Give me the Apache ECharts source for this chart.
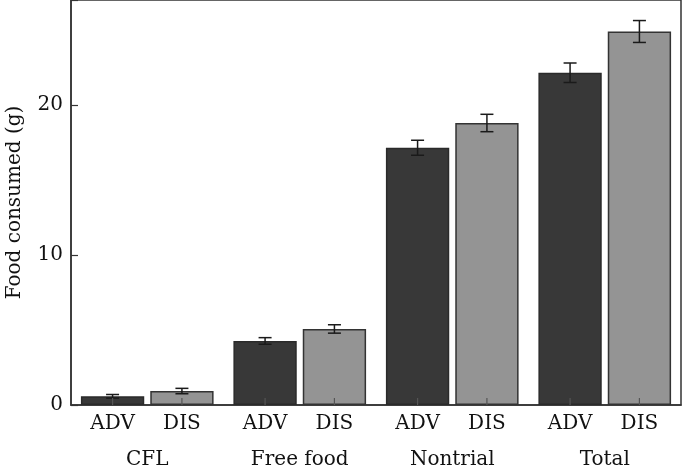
<!DOCTYPE html>
<html>
<head>
<meta charset="utf-8">
<script src="https://cdn.jsdelivr.net/npm/echarts@6/dist/echarts.min.js"></script>
<style>html,body{margin:0;padding:0;background:#fff}#c{width:683px;height:473px}</style>
</head>
<body>
<div id="c"></div>
<script>
const groups = ['CFL', 'Free food', 'Nontrial', 'Total'];
const seriesNames = ['ADV', 'DIS'];
const advMean = [0.58, 4.27, 17.15, 22.15];
const advErr = [0.12, 0.22, 0.50, 0.65];
const disMean = [0.93, 5.07, 18.80, 24.90];
const disErr = [0.18, 0.28, 0.58, 0.73];
const yTicks = [0, 10, 20];

const FONT = 'DejaVu Serif';
const CAT_GAP = 0.13, BAR_GAP = 0.095;

function errRender(side) {
  return function (params, api) {
    const i = api.value(0), m = api.value(1), e = api.value(2);
    const c = api.coord([i, m]);
    const band = api.size([1, 0])[0];
    const bw = band * (1 - CAT_GAP) / (2 + BAR_GAP);
    const x = c[0] + side * bw * (1 + BAR_GAP) / 2;
    const yHi = api.coord([i, m + e])[1];
    const yLo = api.coord([i, m - e])[1];
    const y0 = api.coord([i, 0])[1];
    const st = { stroke: '#1a1a1a', lineWidth: 1.5 };
    const cap = 6.5;
    return {
      type: 'group',
      children: [
        { type: 'line', shape: { x1: x, y1: yHi, x2: x, y2: yLo }, style: st },
        { type: 'line', shape: { x1: x - cap, y1: yHi, x2: x + cap, y2: yHi }, style: st },
        { type: 'line', shape: { x1: x - cap, y1: yLo, x2: x + cap, y2: yLo }, style: st },
        { type: 'line', shape: { x1: x, y1: y0, x2: x, y2: y0 - 7 }, style: { stroke: '#555', lineWidth: 1.2 } }
      ]
    };
  };
}

const chart = echarts.init(document.getElementById('c'), null, { renderer: 'canvas' });
const barLabel = {
  show: true, position: 'bottom', distance: 9,
  formatter: p => p.seriesName,
  color: '#111', fontFamily: FONT, fontSize: 20
};
chart.setOption({
  animation: false,
  grid: { left: 71, right: 2, top: 0, bottom: 68, outerBoundsMode: 'none', containLabel: false,
    show: true, borderColor: '#333', borderWidth: 1.5, backgroundColor: 'transparent' },
  xAxis: {
    type: 'category', data: groups,
    axisLine: { lineStyle: { color: '#333', width: 1.5 } },
    axisTick: { show: false },
    axisLabel: { margin: 45, color: '#111', fontFamily: FONT, fontSize: 20 }
  },
  yAxis: {
    type: 'value', min: 0, max: 27, interval: 10,
    name: 'Food consumed (g)', nameLocation: 'middle', nameGap: 46,
    nameTextStyle: { color: '#111', fontFamily: FONT, fontSize: 20 },
    axisLine: { show: true, lineStyle: { color: '#333', width: 1.5 } },
    axisTick: { show: true, inside: true, length: 7, lineStyle: { color: '#333', width: 1.2 } },
    splitLine: { show: false },
    axisLabel: { margin: 8, color: '#111', fontFamily: FONT, fontSize: 20,
      formatter: v => (yTicks.indexOf(v) >= 0 ? String(v) : '') }
  },
  series: [
    { name: seriesNames[0], type: 'bar', data: advMean, barCategoryGap: (CAT_GAP * 100) + '%', barGap: (BAR_GAP * 100) + '%',
      itemStyle: { color: '#383838', borderColor: '#2a2a2a', borderWidth: 1.5 }, label: barLabel },
    { name: seriesNames[1], type: 'bar', data: disMean,
      itemStyle: { color: '#949494', borderColor: '#333', borderWidth: 1.5 }, label: barLabel },
    { type: 'custom', renderItem: errRender(-1), encode: { x: 0, y: 1 }, z: 5,
      data: advMean.map((m, i) => [i, m, advErr[i]]) },
    { type: 'custom', renderItem: errRender(1), encode: { x: 0, y: 1 }, z: 5,
      data: disMean.map((m, i) => [i, m, disErr[i]]) }
  ]
});
</script>
</body>
</html>
